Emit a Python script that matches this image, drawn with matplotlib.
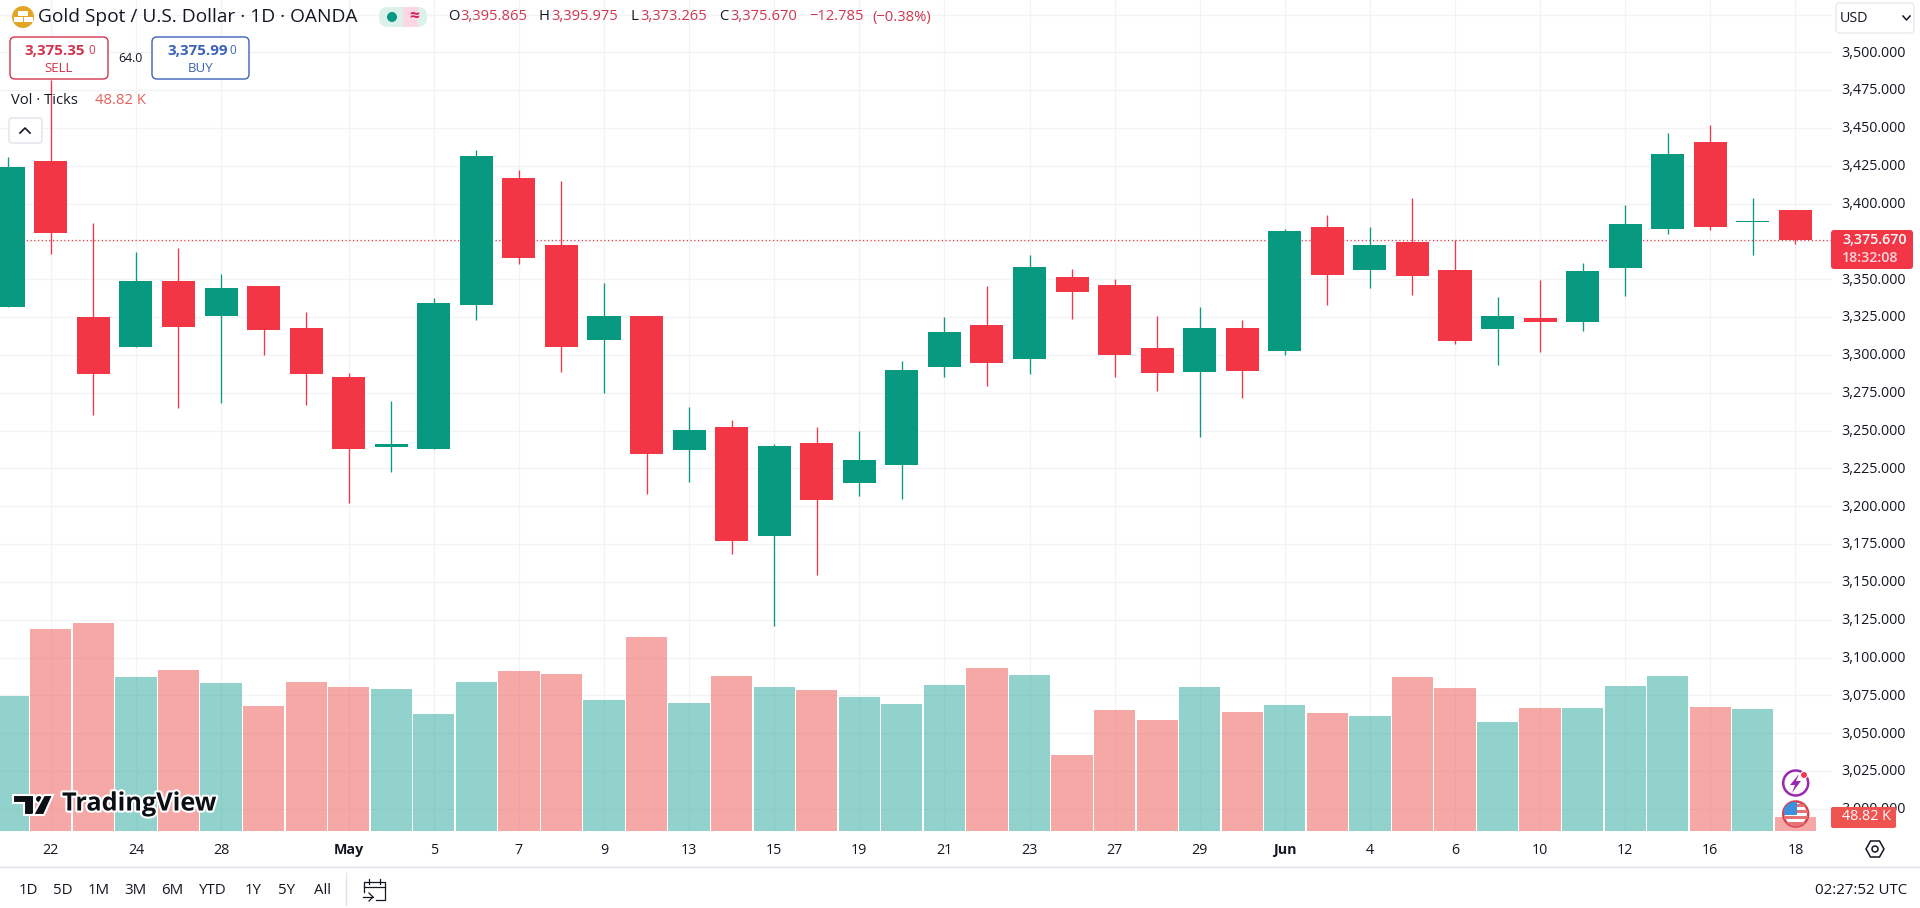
import matplotlib
matplotlib.use("Agg")
import matplotlib.pyplot as plt
from matplotlib import patheffects
from matplotlib.patches import Circle, FancyBboxPatch, Polygon, Rectangle
from matplotlib.transforms import ScaledTranslation

plt.rcParams['font.family'] = ['Open Sans', 'DejaVu Sans']

# ===== Data =====
opens = [3331.9, 3428.2, 3325.1, 3305.2, 3348.9, 3325.7, 3345.6, 3317.8, 3285.4, 3239.1, 3237.8,
         3333.1, 3416.9, 3372.6, 3309.9, 3325.7, 3237.2, 3252.4, 3180.3, 3241.8, 3215.3, 3227.2,
         3292.0, 3319.8, 3297.3, 3351.5, 3346.2, 3304.6, 3288.7, 3317.8, 3302.6, 3384.6, 3356.1,
         3374.7, 3356.2, 3317.2, 3324.4, 3321.8, 3357.5, 3383.2, 3440.8, 3388.0, 3395.865]
highs = [3430.8, 3482.0, 3387.2, 3368.0, 3370.7, 3353.5, 3345.6, 3328.4, 3288.1, 3269.6, 3337.6,
         3435.3, 3422.2, 3414.9, 3347.5, 3325.7, 3265.6, 3257.0, 3241.1, 3252.4, 3249.7, 3296.0,
         3325.1, 3345.6, 3366.1, 3356.8, 3350.2, 3325.7, 3331.7, 3323.1, 3383.2, 3392.5, 3384.6,
         3403.7, 3375.8, 3338.3, 3349.5, 3360.8, 3399.1, 3446.7, 3452.0, 3403.7, 3395.975]
lows = [3331.9, 3366.9, 3260.5, 3305.2, 3265.2, 3268.5, 3300.0, 3267.1, 3202.4, 3222.9, 3237.8,
        3323.1, 3360.1, 3288.7, 3274.8, 3208.1, 3216.0, 3168.4, 3120.8, 3154.5, 3206.8, 3204.8,
        3285.4, 3279.5, 3287.4, 3323.8, 3285.4, 3276.2, 3245.8, 3271.5, 3300.0, 3333.0, 3344.2,
        3339.6, 3307.5, 3293.4, 3301.9, 3315.8, 3339.0, 3379.9, 3382.6, 3366.1, 3373.265]
closes = [3424.2, 3380.6, 3287.4, 3348.9, 3318.5, 3344.2, 3316.5, 3287.4, 3237.8, 3241.1, 3334.3,
          3431.5, 3364.3, 3305.4, 3325.7, 3234.7, 3250.4, 3177.0, 3239.8, 3204.1, 3230.6, 3290.0,
          3315.1, 3294.7, 3358.1, 3341.6, 3300.0, 3288.1, 3317.8, 3289.4, 3381.9, 3352.8, 3372.7,
          3352.4, 3309.5, 3325.8, 3321.8, 3355.5, 3386.6, 3432.8, 3384.6, 3388.6, 3375.67]
# ticks volume, in thousands
volumes = [472, 707, 728, 539, 563, 518, 437, 521, 504, 497, 409, 521, 560, 549, 458, 679, 448, 542,
           504, 493, 469, 444, 510, 569, 545, 265, 422, 387, 503, 415, 440, 412, 401, 538, 499, 380,
           429, 429, 506, 541, 433, 426, 48.82]

date_pos = [1, 3, 5, 8, 10, 12, 14, 16, 18, 20, 22, 24, 26, 28, 30, 32, 34, 36, 38, 40, 42]
date_labels = ['22', '24', '28', 'May', '5', '7', '9', '13', '15', '19', '21', '23', '27', '29',
               'Jun', '4', '6', '10', '12', '16', '18']
price_ticks = list(range(3000, 3550, 25))
last_price = 3375.67

GREEN = '#089981'
RED = '#F23645'
TEXT = '#131722'
GRID = '#F2F3F6'

# ===== Chart =====
W, H = 1920, 908
fig = plt.figure(figsize=(W / 100, H / 100), dpi=100, facecolor='white')
ax = fig.add_axes([0, 1 - 831 / H, 1832 / W, 831 / H])
ax_vol = ax.twinx()

ax.set_xlim(-0.195, 42.86)
ax.set_ylim(2985.4, 3534.6)
ax_vol.set_ylim(0, 2908)
ax_vol.set_yticks([])

for spine in list(ax.spines.values()) + list(ax_vol.spines.values()):
    spine.set_visible(False)

ax.set_axisbelow(True)
ax.grid(True, color=GRID, linewidth=0.9)
ax.yaxis.tick_right()
ax.set_yticks(price_ticks)
ax.set_yticklabels([f'{p:,.3f}' if p <= 3500 else '' for p in price_ticks])
ax.tick_params(axis='y', length=0, pad=7, labelsize=10.3, labelcolor=TEXT)
ax.set_xticks(date_pos)
ax.set_xticklabels(date_labels)
ax.tick_params(axis='x', length=0, pad=8.5, labelsize=10.3, labelcolor=TEXT)
for lab in ax.get_xticklabels():
    if lab.get_text() in ('May', 'Jun'):
        lab.set_fontweight('bold')
# price labels sit a touch above their grid lines
up = ScaledTranslation(0, 1.2 / 100, fig.dpi_scale_trans)
for lab in ax.get_yticklabels():
    lab.set_transform(lab.get_transform() + up)

ax.axhline(last_price, color=RED, linewidth=0.9, linestyle=(0, (1, 2)), zorder=1)

# candles
for i in range(len(opens)):
    col = GREEN if closes[i] >= opens[i] else RED
    ax.vlines(i, lows[i], highs[i], color=col, linewidth=0.95, zorder=2)
    ax.bar(i, abs(closes[i] - opens[i]), bottom=min(opens[i], closes[i]), width=0.776,
           color=col, linewidth=0, zorder=3)

# volume
for i in range(len(volumes)):
    col = '#26A69A' if closes[i] >= opens[i] else '#EF5350'
    ax_vol.bar(i, volumes[i], width=0.97, color=col, alpha=0.5, linewidth=0)

# ===== Overlay for the TradingView interface, in pixels =====
ui = fig.add_axes([0, 0, 1, 1], zorder=5)
ui.set_xlim(0, W)
ui.set_ylim(H, 0)
ui.axis('off')
ui.patch.set_alpha(0)


def label(x, y, s, size=10.3, color=TEXT, ha='left', **kw):
    return ui.text(x, y, s, fontsize=size, color=color, ha=ha, va='center', **kw)


def box(x0, y0, x1, y1, r=5, fc='white', ec='none', lw=1.0):
    p = FancyBboxPatch((x0 + r, y0 + r), x1 - x0 - 2 * r, y1 - y0 - 2 * r,
                       boxstyle=f'round,pad={r},rounding_size={r}', fc=fc, ec=ec, lw=lw)
    ui.add_patch(p)


# header
ui.add_patch(Circle((23, 17), 11, fc='#E2A526', ec='none'))
ui.add_patch(Rectangle((18, 11), 10, 5, fc='white', ec='none'))
ui.add_patch(Rectangle((14, 17), 9, 5, fc='white', ec='none'))
ui.add_patch(Rectangle((24, 17), 9, 5, fc='white', ec='none'))
label(38, 17, 'Gold Spot / U.S. Dollar · 1D · OANDA', size=13.8)
box(379, 7, 427, 27, r=9, fc='#DDF1EC')
ui.add_patch(FancyBboxPatch((404, 7), 14, 20, boxstyle='round,pad=0,rounding_size=1', fc='#FBD7E4', ec='none'))
ui.add_patch(Rectangle((403, 7), 8, 20, fc='#FBD7E4', ec='none'))
ui.add_patch(Circle((392, 17), 5, fc=GREEN, ec='none'))
label(414, 16, '≈', size=12.5, color='#D81B60', ha='center', fontweight='bold')

OHLC = '#D0354F'
label(448, 17, 'O', size=10.6)
label(460, 17, '3,395.865', size=10.6, color=OHLC)
label(539, 17, 'H', size=10.6)
label(551, 17, '3,395.975', size=10.6, color=OHLC)
label(630, 17, 'L', size=10.6)
label(640, 17, '3,373.265', size=10.6, color=OHLC)
label(719, 17, 'C', size=10.6)
label(730, 17, '3,375.670', size=10.6, color=OHLC)
label(809, 17, '−12.785', size=10.6, color=OHLC)
label(872, 17, '(−0.38%)', size=10.6, color=OHLC)

# sell / buy
box(10, 37, 108, 79, fc='white', ec='#D0354F')
label(24, 51, '3,375.35', size=10.9, color='#D0354F', fontweight='bold')
label(88, 50, '0', size=8.5, color='#D0354F')
label(59, 68, 'SELL', size=9.5, color='#D0354F', ha='center')
label(130.5, 58, '64.0', size=8.8, ha='center')
box(152, 37, 249, 79, fc='white', ec='#3C62B8')
label(167, 51, '3,375.99', size=10.9, color='#3C62B8', fontweight='bold')
label(229.5, 50, '0', size=8.5, color='#3C62B8')
label(201, 68, 'BUY', size=9.5, color='#3C62B8', ha='center')

# volume legend and collapse button
label(11, 100, 'Vol · Ticks', size=10.6)
label(95, 100, '48.82 K', size=10.6, color='#E5605C')
box(9, 118, 42, 143, r=3, fc='white', ec='#E0E3EB')
ui.plot([20, 25, 30], [133, 128, 133], color=TEXT, lw=1.2)

# price and volume boxes on the axis
box(1836, 3, 1914, 33, r=4, fc='white', ec='#E8EAF0')
label(1840, 18, 'USD', size=10.3)
ui.plot([1903, 1906.5, 1910], [16, 20, 16], color=TEXT, lw=1.1)
box(1831, 230, 1913, 269, r=3, fc=RED)
label(1842, 240, '3,375.670', size=10.3, color='white', fontweight='semibold')
label(1842, 258, '18:32:08', size=10.3, color='#FFD5DA', fontweight='semibold')
box(1831, 807, 1896, 828, r=2, fc='#EF5350')
label(1866, 817, '48.82 K', size=10.3, color='white', ha='center')

# watermark
halo = [patheffects.withStroke(linewidth=3, foreground='white')]
logo = [Polygon([(13, 795), (34, 795), (34, 815), (24, 815), (24, 803), (13, 803)]),
        Circle((39, 799), 4),
        Polygon([(44, 795), (53, 795), (44, 815), (33, 815)])]
for p in logo:
    p.set(fc='#0B0E14', ec='white', lw=1.5)
    ui.add_patch(p)
label(62, 804, 'TradingView', size=18.2, color='#0B0E14', fontweight='bold', path_effects=halo)

# icons near the last bar
ui.add_patch(Circle((1795.7, 783), 12.5, fc='white', ec='#9C27B0', lw=1.8))
ui.add_patch(Polygon([(1799, 774), (1790, 785), (1795, 785), (1792, 793), (1801, 781), (1796, 781)], fc='#9C27B0', ec='none'))
ui.add_patch(Circle((1804, 775), 3.5, fc='#F23645', ec='white', lw=0.8))
flag = Circle((1795.7, 814), 12.5, fc='white', ec='#D8404F', lw=1.8)
ui.add_patch(flag)
for r in [Rectangle((1784, 804), 24, 3, fc='#E57373', ec='none'),
          Rectangle((1784, 810), 24, 3, fc='#E57373', ec='none'),
          Rectangle((1784, 816), 24, 3, fc='#E57373', ec='none'),
          Rectangle((1784, 822), 24, 6, fc='#E57373', ec='none'),
          Rectangle((1784, 802), 13, 13, fc='#3D8FE0', ec='none')]:
    ui.add_patch(r)
    r.set_clip_path(flag)

# axis settings hexagon
ui.add_patch(Polygon([(1866, 849), (1870.5, 841), (1879.5, 841), (1884, 849), (1879.5, 857), (1870.5, 857)],
                     fc='none', ec=TEXT, lw=1.1))
ui.add_patch(Circle((1875, 849), 3, fc='none', ec=TEXT, lw=1.1))

# bottom toolbar
ui.plot([0, W], [866.5, 866.5], color='#E0E3EB', lw=1.0)
ui.plot([345.5, 345.5], [873, 905], color='#E0E3EB', lw=1.0)
ranges = ['1D', '5D', '1M', '3M', '6M', 'YTD', '1Y', '5Y', 'All']
range_x = [28, 63, 99, 135, 172, 213, 253, 287, 322]
for x, s in zip(range_x, ranges):
    label(x, 890, s, size=10.8, ha='center')
label(1907, 891, '02:27:52 UTC', size=10.8, ha='right')

# calendar icon
ui.plot([364, 364, 385, 385, 376], [892, 882, 882, 900, 900], color=TEXT, lw=0.9)
ui.plot([364, 385], [887, 887], color=TEXT, lw=0.9)
ui.plot([369, 369], [879, 884], color=TEXT, lw=0.9)
ui.plot([380, 380], [879, 884], color=TEXT, lw=0.9)
ui.plot([363, 373], [897, 897], color=TEXT, lw=0.9)
ui.plot([369, 373, 369], [893, 897, 901], color=TEXT, lw=0.9)

fig.savefig('out.png', dpi=100)
